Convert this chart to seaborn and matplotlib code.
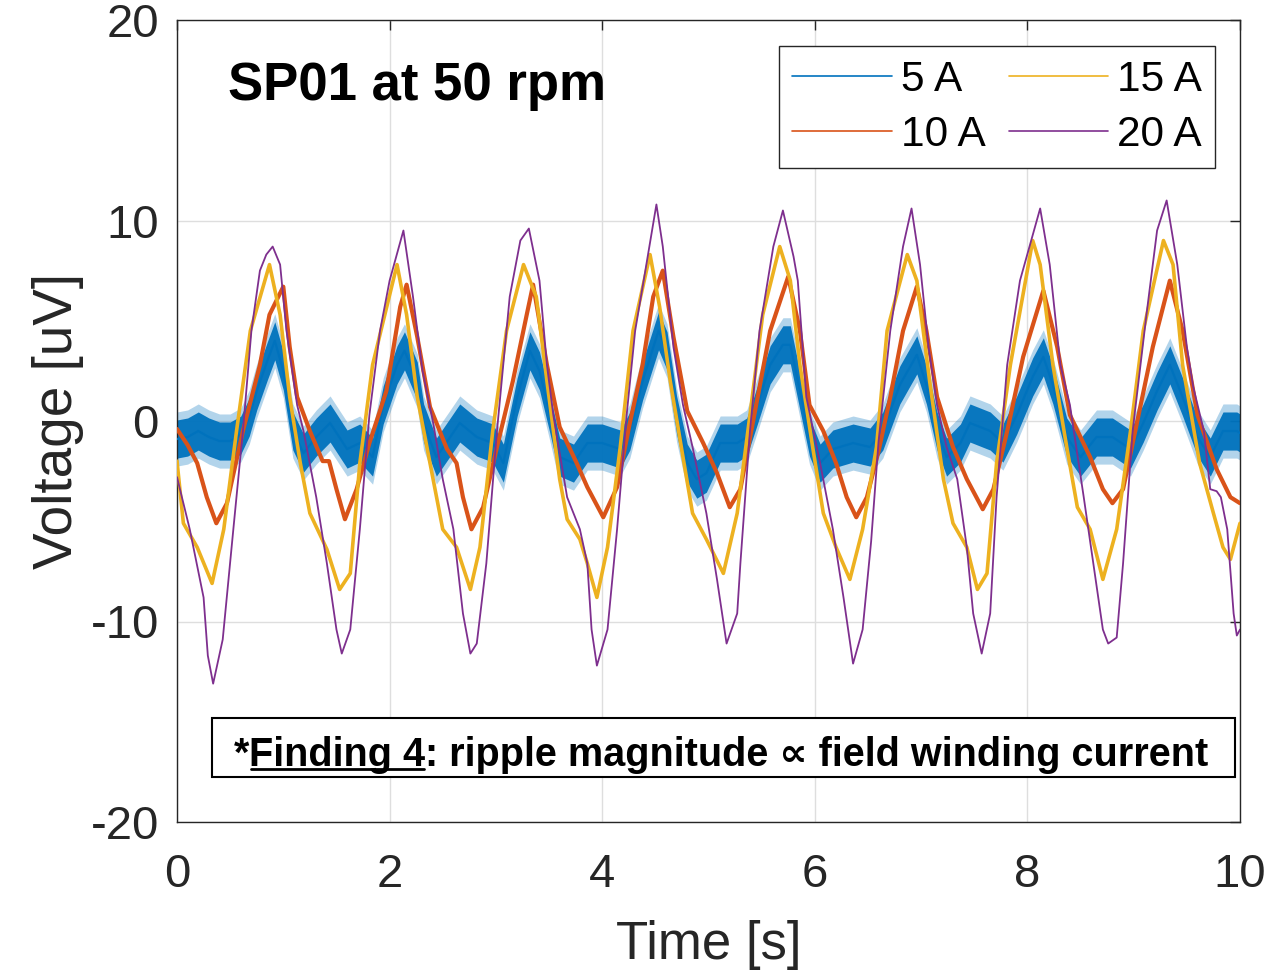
import numpy as np
import pandas as pd
import matplotlib
matplotlib.use("Agg")
import matplotlib.pyplot as plt
import seaborn as sns
from matplotlib.patches import Rectangle
from matplotlib.lines import Line2D

# ---------------- data ----------------
series_labels = ["5 A", "10 A", "15 A", "20 A"]

t_5A = [0, 0.1, 0.2, 0.3, 0.4, 0.5, 0.6, 0.68, 0.75, 0.85, 0.92, 1.0, 1.09, 1.19, 1.31, 1.44,
        1.6, 1.72, 1.84, 1.94, 2.07, 2.14, 2.26, 2.32, 2.44, 2.57, 2.66, 2.82, 2.97, 3.07, 3.2,
        3.32, 3.41, 3.51, 3.6, 3.73, 3.86, 4.0, 4.17, 4.26, 4.38, 4.53, 4.61, 4.7, 4.8, 4.89,
        4.98, 5.11, 5.27, 5.36, 5.46, 5.58, 5.7, 5.77, 5.86, 5.95, 6.05, 6.17, 6.36, 6.52, 6.64,
        6.8, 6.96, 7.05, 7.15, 7.24, 7.37, 7.46, 7.65, 7.77, 7.9, 8.05, 8.15, 8.24, 8.37, 8.5,
        8.65, 8.8, 8.97, 9.09, 9.22, 9.34, 9.46, 9.6, 9.72, 9.84, 9.97, 10.0]
v_5A = [-0.9, -0.8, -0.5, -0.8, -1.0, -1.0, -0.7, 0.2, 1.5, 3.0, 4.0, 2.5, -0.5, -1.6, -0.8, -0.1,
        -1.4, -1.1, -1.8, 0.8, 2.8, 3.5, 2.0, -0.1, -1.8, -0.8, -0.1, -0.8, -1.1, -2.1, 1.2,
        3.5, 2.5, 0.3, -1.8, -2.1, -1.1, -1.1, -1.4, -0.5, 2.0, 4.5, 3.5, 0.3, -2.1, -2.9,
        -2.6, -1.1, -1.1, -0.8, 0.8, 2.8, 3.8, 3.8, 1.5, -0.8, -2.1, -1.4, -1.1, -1.3, -0.5,
        1.8, 3.3, 1.8, -0.5, -1.8, -1.1, -0.1, -0.5, -1.1, 0.3, 2.2, 3.2, 1.8, -0.8, -1.8,
        -0.8, -0.8, -1.4, -0.1, 1.5, 2.8, 1.2, -0.8, -1.8, -0.5, -0.5, -0.6]
noise_5A_core = 0.95   # dense part of the 5 A noise band, half-width [uV]
noise_5A_peak = 1.35   # spikes of the 5 A noise band, half-width [uV]

t_10A = [0, 0.1, 0.19, 0.28, 0.37, 0.47, 0.62, 0.78, 0.87, 1.0, 1.06, 1.13, 1.25, 1.37, 1.43, 1.5,
         1.58, 1.69, 1.81, 1.97, 2.1, 2.16, 2.26, 2.38, 2.54, 2.63, 2.69, 2.77, 2.88, 3.01, 3.16,
         3.29, 3.35, 3.48, 3.6, 3.76, 3.86, 4.01, 4.14, 4.26, 4.38, 4.48, 4.57, 4.67, 4.8, 4.95,
         5.08, 5.2, 5.3, 5.42, 5.58, 5.75, 5.86, 5.95, 6.08, 6.2, 6.3, 6.39, 6.49, 6.6, 6.71,
         6.83, 6.96, 7.05, 7.15, 7.3, 7.43, 7.58, 7.68, 7.81, 7.96, 8.15, 8.28, 8.4, 8.59, 8.71,
         8.8, 8.9, 9.03, 9.18, 9.34, 9.46, 9.6, 9.78, 9.91, 10.0]
v_10A = [-0.4, -1.2, -2.1, -3.8, -5.1, -4.1, -0.5, 2.8, 5.3, 6.7, 3.7, 1.2, -0.5, -2.0, -2.0, -3.4,
         -4.9, -3.4, -1.1, 1.5, 5.7, 6.8, 4.2, 0.7, -1.4, -2.1, -3.8, -5.4, -4.3, -1.3, 2.0,
         5.3, 6.8, 2.8, -0.3, -2.1, -3.3, -4.8, -3.3, -0.1, 2.8, 6.2, 7.5, 4.2, 0.5, -1.1,
         -2.6, -4.3, -3.4, 0.0, 4.5, 7.2, 4.5, 0.8, -0.5, -2.1, -3.8, -4.8, -3.8, -1.5, 1.2,
         4.5, 6.7, 4.5, 1.2, -1.3, -2.9, -4.4, -3.4, -0.5, 3.2, 6.5, 3.7, 0.3, -1.8, -3.4,
         -4.1, -3.4, -0.1, 3.7, 7.0, 4.5, 0.3, -2.4, -3.8, -4.1]

t_15A = [0, 0.06, 0.19, 0.33, 0.44, 0.56, 0.69, 0.87, 0.97, 1.06, 1.16, 1.25, 1.41, 1.53, 1.63,
         1.72, 1.84, 2.07, 2.16, 2.26, 2.38, 2.5, 2.63, 2.76, 2.85, 2.97, 3.1, 3.26, 3.38, 3.48,
         3.6, 3.67, 3.79, 3.86, 3.95, 4.05, 4.17, 4.29, 4.45, 4.54, 4.64, 4.76, 4.85, 4.98, 5.14,
         5.27, 5.39, 5.51, 5.67, 5.77, 5.86, 5.98, 6.08, 6.2, 6.33, 6.45, 6.58, 6.68, 6.87, 6.96,
         7.08, 7.21, 7.3, 7.43, 7.53, 7.62, 7.71, 7.84, 8.05, 8.12, 8.24, 8.37, 8.47, 8.59, 8.71,
         8.84, 8.97, 9.09, 9.28, 9.37, 9.46, 9.62, 9.75, 9.84, 9.91, 10.0]
v_15A = [-2.0, -5.1, -6.3, -8.1, -5.4, -0.5, 4.5, 7.8, 5.3, 1.2, -2.1, -4.6, -6.4, -8.4, -7.6,
         -2.1, 2.8, 7.8, 5.3, 1.2, -2.1, -5.4, -6.3, -8.4, -6.3, -0.5, 4.5, 7.8, 6.2, 2.0,
         -2.9, -4.9, -5.9, -7.1, -8.8, -6.3, -1.3, 4.5, 8.3, 5.7, 2.0, -1.8, -4.6, -5.9, -7.6,
         -4.6, 0.3, 5.3, 8.7, 7.0, 2.8, -1.3, -4.6, -6.3, -7.9, -5.4, -1.3, 4.5, 8.3, 7.0,
         2.0, -2.9, -5.1, -6.3, -8.4, -7.6, -2.1, 2.8, 9.0, 7.8, 2.8, -1.3, -4.3, -5.4, -7.9,
         -5.4, -0.5, 4.5, 9.0, 7.8, 2.8, -2.1, -4.6, -6.3, -6.9, -5.1]

t_20A = [0, 0.12, 0.25, 0.29, 0.34, 0.43, 0.53, 0.62, 0.7, 0.78, 0.84, 0.9, 0.97, 1.03, 1.13, 1.19,
         1.31, 1.41, 1.5, 1.55, 1.63, 1.72, 1.81, 1.91, 2.0, 2.13, 2.22, 2.31, 2.41, 2.5, 2.6,
         2.69, 2.76, 2.82, 2.91, 3.01, 3.13, 3.23, 3.31, 3.41, 3.48, 3.54, 3.67, 3.79, 3.86, 3.9,
         3.95, 4.05, 4.14, 4.23, 4.31, 4.39, 4.51, 4.57, 4.67, 4.76, 4.85, 4.98, 5.08, 5.17,
         5.27, 5.3, 5.39, 5.48, 5.61, 5.7, 5.8, 5.84, 5.92, 6.05, 6.17, 6.27, 6.36, 6.45, 6.53,
         6.6, 6.71, 6.83, 6.91, 6.99, 7.07, 7.15, 7.24, 7.34, 7.43, 7.49, 7.57, 7.65, 7.71, 7.81,
         7.93, 8.12, 8.21, 8.31, 8.4, 8.53, 8.62, 8.71, 8.76, 8.84, 8.9, 8.99, 9.12, 9.22, 9.31,
         9.41, 9.5, 9.56, 9.66, 9.72, 9.78, 9.82, 9.88, 9.94, 9.97, 10.0]
v_20A = [-2.8, -5.4, -8.8, -11.7, -13.1, -10.9, -5.4, -0.5, 4.5, 7.5, 8.3, 8.7, 7.8, 4.5, 0.8, -0.5,
         -3.8, -7.1, -10.4, -11.6, -10.4, -5.4, 0.3, 4.5, 7.0, 9.5, 6.2, 2.5, -0.1, -2.9, -5.4,
         -9.6, -11.6, -11.1, -7.1, -0.5, 6.2, 9.0, 9.6, 7.0, 2.8, 0.3, -3.8, -5.4, -7.1, -10.4,
         -12.2, -10.4, -5.4, 0.3, 4.5, 7.0, 10.8, 8.7, 3.7, 0.8, -1.3, -4.6, -7.9, -11.1,
         -9.6, -7.1, -0.5, 4.5, 8.7, 10.5, 8.2, 7.0, 1.2, -2.1, -5.4, -8.8, -12.1, -10.4, -6.0,
         -1.0, 4.5, 8.7, 10.6, 7.8, 3.7, 0.8, -1.3, -2.9, -6.3, -9.6, -11.6, -9.6, -3.8, 2.8,
         7.0, 10.6, 7.8, 2.8, 0.8, -3.8, -7.1, -10.4, -11.1, -10.8, -7.1, -0.5, 5.3, 9.5, 11.0,
         7.8, 3.7, 1.7, -0.5, -3.4, -3.5, -3.8, -5.4, -9.6, -10.7, -10.4]

x_ticks = [0, 2, 4, 6, 8, 10]
y_ticks = [-20, -10, 0, 10, 20]

title_text = "SP01 at 50 rpm"
note_star = "*"
note_underlined = "Finding 4"
note_rest = ": ripple magnitude \u221d field winding current"

# ---------------- style ----------------
colors = ["#0072BD", "#D95319", "#EDB120", "#7E2F8E"]
widths = [1.6, 3.0, 2.6, 1.3]
ink = "#262626"

sns.set_theme(style="white")
plt.rcParams['font.family'] = ['Liberation Sans', 'DejaVu Sans']

df = pd.concat([
    pd.DataFrame({"t": t_5A, "v": v_5A, "series": "5 A"}),
    pd.DataFrame({"t": t_10A, "v": v_10A, "series": "10 A"}),
    pd.DataFrame({"t": t_15A, "v": v_15A, "series": "15 A"}),
    pd.DataFrame({"t": t_20A, "v": v_20A, "series": "20 A"}),
], ignore_index=True)

W, H = 1278, 973
fig = plt.figure(figsize=(W / 100, H / 100), dpi=100)
fig.patch.set_facecolor("white")
ax = fig.add_axes([177 / W, 1 - 822 / H, (1240 - 177) / W, (822 - 20) / H])

# noise band of the 5 A trace (fuzzy outer part + dense core)
b_t = np.array(t_5A)
b_v = np.array(v_5A)
ax.fill_between(b_t, b_v - noise_5A_peak, b_v + noise_5A_peak, color=colors[0], alpha=0.3,
                lw=0, zorder=2)
ax.fill_between(b_t, b_v - noise_5A_core, b_v + noise_5A_core, color=colors[0], alpha=0.95,
                lw=0, zorder=2)

for lab, c, w in zip(series_labels, colors, widths):
    sub = df[df["series"] == lab]
    sns.lineplot(data=sub, x="t", y="v", ax=ax, color=c, lw=w, estimator=None,
                 sort=False, legend=False, zorder=3)

ax.set_xlim(0, 10)
ax.set_ylim(-20, 20)
ax.set_xticks(x_ticks)
ax.set_yticks(y_ticks)
ax.set_xticklabels([str(v) for v in x_ticks])
ax.set_yticklabels([str(v) for v in y_ticks])
ax.grid(True, color="#dedede", lw=1.0)
ax.set_axisbelow(True)
ax.tick_params(direction="in", length=7, width=1, top=True, right=True, colors=ink,
               labelsize=34)
ax.tick_params(axis="x", pad=22)
ax.tick_params(axis="y", pad=13)
for s in ax.spines.values():
    s.set_color(ink)
    s.set_linewidth(1.0)
ax.set_xlabel("Time [s]", fontsize=38, color=ink, labelpad=17)
ax.set_ylabel("Voltage [uV]", fontsize=39.5, color=ink, labelpad=5)

# title text inside axes
ax.text(0.048, 0.90, title_text, transform=ax.transAxes, fontsize=38, fontweight="bold",
        color="black", ha="left", va="baseline", zorder=6)

# legend
handles = [Line2D([0], [0], color=c, lw=1.2) for c in colors]
leg = ax.legend(handles, series_labels, ncol=2, loc="upper right",
                bbox_to_anchor=(0.9765, 0.9676), borderaxespad=0, fontsize=30.5,
                frameon=True, fancybox=False, edgecolor=ink, framealpha=1,
                handlelength=2.35, handletextpad=0.2, columnspacing=0.55,
                labelspacing=0.36, borderpad=0.32)
leg.get_frame().set_linewidth(1.0)
for txt in leg.get_texts():
    txt.set_color("black")
leg.set_zorder(7)

# finding box
box = Rectangle((0.0329, 0.0561), 0.9624, 0.0736, transform=ax.transAxes,
                facecolor="white", edgecolor="black", lw=1.5, zorder=5)
ax.add_patch(box)
FS = 28.5
t1 = ax.text(0.0536, 0.0698, note_star, transform=ax.transAxes, fontsize=FS,
             fontweight="bold", color="black", ha="left", va="baseline", zorder=6)
t2 = ax.annotate(note_underlined, xy=(1, 0), xycoords=t1, fontsize=FS, fontweight="bold",
                 color="black", ha="left", va="bottom", zorder=6)
t3 = ax.annotate(note_rest, xy=(1, 0), xycoords=t2, fontsize=FS, fontweight="bold",
                 color="black", ha="left", va="bottom", zorder=6)

fig.canvas.draw()
bb = t2.get_window_extent()
uy = (bb.y0 + 5) / H
fig.add_artist(Line2D([(bb.x0 + 2) / W, (bb.x1 - 1) / W], [uy, uy], color="black", lw=2,
                      transform=fig.transFigure, zorder=8))

fig.savefig("out.png", dpi=100, facecolor="white")
